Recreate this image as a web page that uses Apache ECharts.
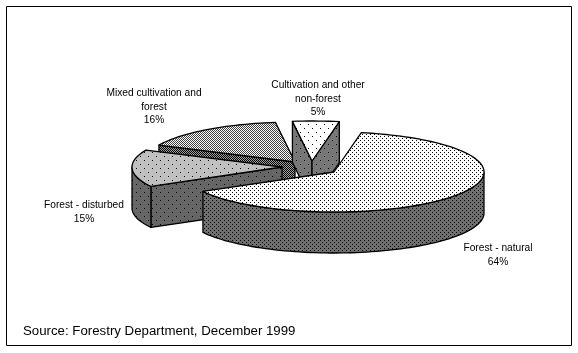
<!DOCTYPE html>
<html>
<head>
<meta charset="utf-8">
<style>html,body{margin:0;background:#fff}#main{width:578px;height:353px}</style>
<script src="https://cdn.jsdelivr.net/npm/echarts@6/dist/echarts.min.js"></script>
</head>
<body>
<div id="main"></div>
<script>
var categories = ['Forest - natural', 'Forest - disturbed', 'Mixed cultivation and\nforest', 'Cultivation and other\nnon-forest'];
var shares = [64, 15, 16, 5];
var sourceNote = 'Source: Forestry Department, December 1999';

// layout, one entry per slice
var apexX = [334, 282, 295, 312];
var apexY = [172, 167, 162, 161];
var labelX = [498, 84, 154, 318];
var labelY = [255, 212, 107, 99];
var drawOrder = [2, 3, 1, 0];

var rx = 150, ry = 40, depth = 41, firstAngle = 10.5;

// fill pattern: background + dots in a square tile
function tile(size, bg, dots, dotColor) {
    var c = document.createElement('canvas');
    c.width = c.height = size;
    var ctx = c.getContext('2d');
    ctx.fillStyle = bg;
    ctx.fillRect(0, 0, size, size);
    ctx.fillStyle = dotColor || '#000';
    dots.forEach(function (d) { ctx.fillRect(d[0], d[1], 1, 1); });
    return { image: c, repeat: 'repeat' };
}
var sparse = [[0, 0], [4, 4]];
var medium = [[0, 0], [2, 2]];
var checker = [[0, 0], [1, 1]];
var topFill = [tile(4, '#fff', medium), tile(8, '#c0c0c0', sparse), tile(2, '#fff', checker, '#404040'), tile(8, '#fff', sparse)];
var sideFill = [tile(4, '#707070', medium), tile(8, '#666', sparse), tile(2, '#a0a0a0', checker), tile(8, '#777', sparse)];

// start and end angle of each slice, clockwise from the top
var startAngles = [], endAngles = [];
var sum = 0;
shares.forEach(function (v, i) {
    startAngles[i] = firstAngle + echarts.number.linearMap(sum, [0, 100], [0, 360]);
    sum += v;
    endAngles[i] = firstAngle + echarts.number.linearMap(sum, [0, 100], [0, 360]);
});

function rad(a) { return a * Math.PI / 180; }
function rim(i, a, dy) {
    return [apexX[i] + rx * Math.sin(rad(a)), apexY[i] - ry * Math.cos(rad(a)) + (dy || 0)];
}
function arc(i, a0, a1, dy) {
    var pts = [];
    var n = Math.max(2, Math.ceil(Math.abs(a1 - a0) / 2));
    for (var k = 0; k <= n; k++) pts.push(rim(i, a0 + (a1 - a0) * k / n, dy));
    return pts;
}
function poly(points, fill) {
    return { type: 'polygon', shape: { points: points }, style: { fill: fill, stroke: '#000', lineWidth: 1.3, lineJoin: 'round' } };
}

function renderSlice(params, api) {
    var i = api.value(0);
    var a0 = startAngles[i], a1 = endAngles[i];
    var apex = [apexX[i], apexY[i]];
    var apexLow = [apexX[i], apexY[i] + depth];
    var children = [];
    if (Math.sin(rad(a0)) < 0) {
        children.push(poly([apex, rim(i, a0), rim(i, a0, depth), apexLow], sideFill[i]));
    }
    if (Math.sin(rad(a1)) > 0) {
        children.push(poly([apex, rim(i, a1), rim(i, a1, depth), apexLow], sideFill[i]));
    }
    // outer wall, front half of the ellipse only
    var f0 = Math.max(a0, 90), f1 = Math.min(a1, 270);
    if (f1 > f0) {
        children.push(poly(arc(i, f0, f1, 0).concat(arc(i, f1, f0, depth)), sideFill[i]));
    }
    children.push(poly([apex].concat(arc(i, a0, a1, 0)), topFill[i]));
    children.push({
        type: 'text',
        z2: 10,
        style: {
            x: labelX[i], y: labelY[i],
            text: categories[i] + '\n' + shares[i] + '%',
            font: '10.2px "Liberation Sans"',
            lineHeight: 13.5,
            fill: '#000',
            align: 'center',
            verticalAlign: 'middle'
        }
    });
    return { type: 'group', children: children };
}

var myChart = echarts.init(document.getElementById('main'));
var option = {
    animation: false,
    title: {
        text: sourceNote,
        left: 23,
        top: 325,
        padding: 0,
        textStyle: { fontFamily: 'Liberation Sans', fontSize: 13.25, fontWeight: 'normal', color: '#000' }
    },
    graphic: [{
        type: 'rect',
        shape: { x: 6.5, y: 6.5, width: 565, height: 339 },
        style: { fill: 'none', stroke: '#000', lineWidth: 1 }
    }],
    series: [{
        type: 'custom',
        coordinateSystem: 'none',
        renderItem: renderSlice,
        data: drawOrder.map(function (i) { return [i]; })
    }]
};
myChart.setOption(option);
</script>
</body>
</html>
